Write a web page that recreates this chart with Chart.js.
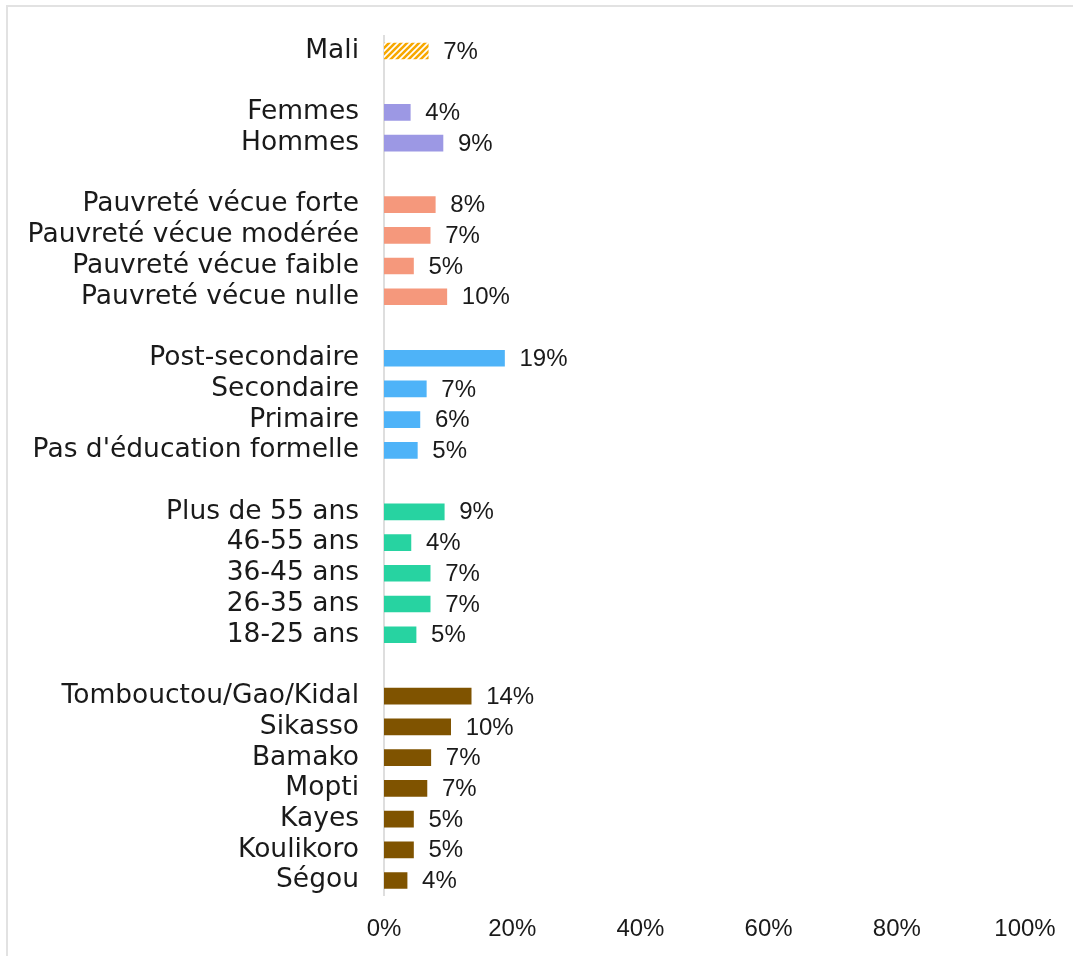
<!DOCTYPE html>
<html>
<head>
<meta charset="utf-8">
<script src="https://cdn.jsdelivr.net/npm/chart.js@4/dist/chart.umd.min.js"></script>
<style>
  html, body { margin: 0; padding: 0; background: #fff; overflow: hidden; }
  #wrap { position: relative; width: 1073px; height: 956px; overflow: hidden; }
  #lineTop { position: absolute; left: 6px; top: 5px; width: 1067px; height: 2px; background: #e2e2e2; }
  #lineLeft { position: absolute; left: 6px; top: 5px; width: 2px; height: 951px; background: #e2e2e2; }
  canvas { position: absolute; left: 0; top: 0; }
</style>
</head>
<body>
<div id="wrap">
  <div id="lineTop"></div>
  <div id="lineLeft"></div>
  <canvas id="c" width="1073" height="956"></canvas>
</div>
<script>
// ---- Data ----
const categories = [
  "Mali", "",
  "Femmes", "Hommes", "",
  "Pauvreté vécue forte", "Pauvreté vécue modérée", "Pauvreté vécue faible", "Pauvreté vécue nulle", "",
  "Post-secondaire", "Secondaire", "Primaire", "Pas d'éducation formelle", "",
  "Plus de 55 ans", "46-55 ans", "36-45 ans", "26-35 ans", "18-25 ans", "",
  "Tombouctou/Gao/Kidal", "Sikasso", "Bamako", "Mopti", "Kayes", "Koulikoro", "Ségou"
];
const values = [
  6.9, null,
  4.1, 9.2, null,
  8.0, 7.2, 4.6, 9.8, null,
  18.8, 6.6, 5.6, 5.2, null,
  9.4, 4.2, 7.2, 7.2, 5.0, null,
  13.6, 10.4, 7.3, 6.7, 4.6, 4.6, 3.6
];
const groupOfRow = [
  "mali", null,
  "sexe", "sexe", null,
  "pauv", "pauv", "pauv", "pauv", null,
  "edu", "edu", "edu", "edu", null,
  "age", "age", "age", "age", "age", null,
  "reg", "reg", "reg", "reg", "reg", "reg", "reg"
];
const xTicks = [0, 20, 40, 60, 80, 100];

// ---- Styles ----
const LABEL_FONT = "'DejaVu Sans', sans-serif";
const NUM_FONT = "'Liberation Sans', Arial, sans-serif";
function hatch() {
  const p = document.createElement('canvas');
  p.width = 6; p.height = 6;
  const g = p.getContext('2d');
  g.fillStyle = '#ffffff'; g.fillRect(0, 0, 6, 6);
  g.strokeStyle = '#f7a800'; g.lineWidth = 2.6;
  g.beginPath();
  g.moveTo(-1, 7); g.lineTo(7, -1);
  g.moveTo(-4, 4); g.lineTo(4, -4);
  g.moveTo(2, 10); g.lineTo(10, 2);
  g.stroke();
  return document.getElementById('c').getContext('2d').createPattern(p, 'repeat');
}
const groupColors = {
  mali: hatch(),
  sexe: '#9c98e4',
  pauv: '#f5987c',
  edu: '#4eb3f8',
  age: '#27d3a1',
  reg: '#7f5300'
};
const barColors = groupOfRow.map(g => g ? groupColors[g] : 'rgba(0,0,0,0)');

const labelPlugin = {
  id: 'valueLabels',
  afterDatasetsDraw(chart) {
    const ctx = chart.ctx;
    const meta = chart.getDatasetMeta(0);
    ctx.save();
    ctx.font = "24px " + NUM_FONT;
    ctx.fillStyle = '#1a1a1a';
    ctx.textAlign = 'left';
    ctx.textBaseline = 'middle';
    meta.data.forEach((bar, i) => {
      const v = values[i];
      if (v === null) return;
      ctx.fillText(Math.round(v) + '%', bar.x + 15, bar.y + 1);
    });
    ctx.restore();
  }
};

new Chart(document.getElementById('c'), {
  type: 'bar',
  data: {
    labels: categories,
    datasets: [{
      data: values,
      backgroundColor: barColors,
      barThickness: 16,
      borderWidth: 0
    }]
  },
  plugins: [labelPlugin],
  options: {
    indexAxis: 'y',
    responsive: false,
    animation: false,
    layout: { padding: { top: 35.6, right: 48, bottom: 0, left: 0 } },
    plugins: { legend: { display: false }, tooltip: { enabled: false } },
    scales: {
      x: {
        min: 0, max: 100,
        afterBuildTicks(scale) { scale.ticks = xTicks.map(v => ({ value: v })); },
        grid: { display: false, drawTicks: false },
        border: { display: false },
        ticks: {
          color: '#1a1a1a',
          font: { family: NUM_FONT, size: 24 },
          padding: 19,
          maxRotation: 0,
          callback: v => v + '%'
        },
        afterFit(scale) {
          scale.height = 60.1;
          scale.paddingLeft = 0; scale.paddingRight = 0;
        }
      },
      y: {
        grid: { display: false, drawTicks: false },
        border: { display: true, color: '#dedede', width: 2 },
        ticks: {
          color: '#1a1a1a',
          font: { family: LABEL_FONT, size: 26.5 },
          padding: 25,
          autoSkip: false
        },
        afterFit(scale) {
          scale.width = 384;
          scale.paddingTop = 0; scale.paddingBottom = 0;
        }
      }
    }
  }
});
</script>
</body>
</html>
